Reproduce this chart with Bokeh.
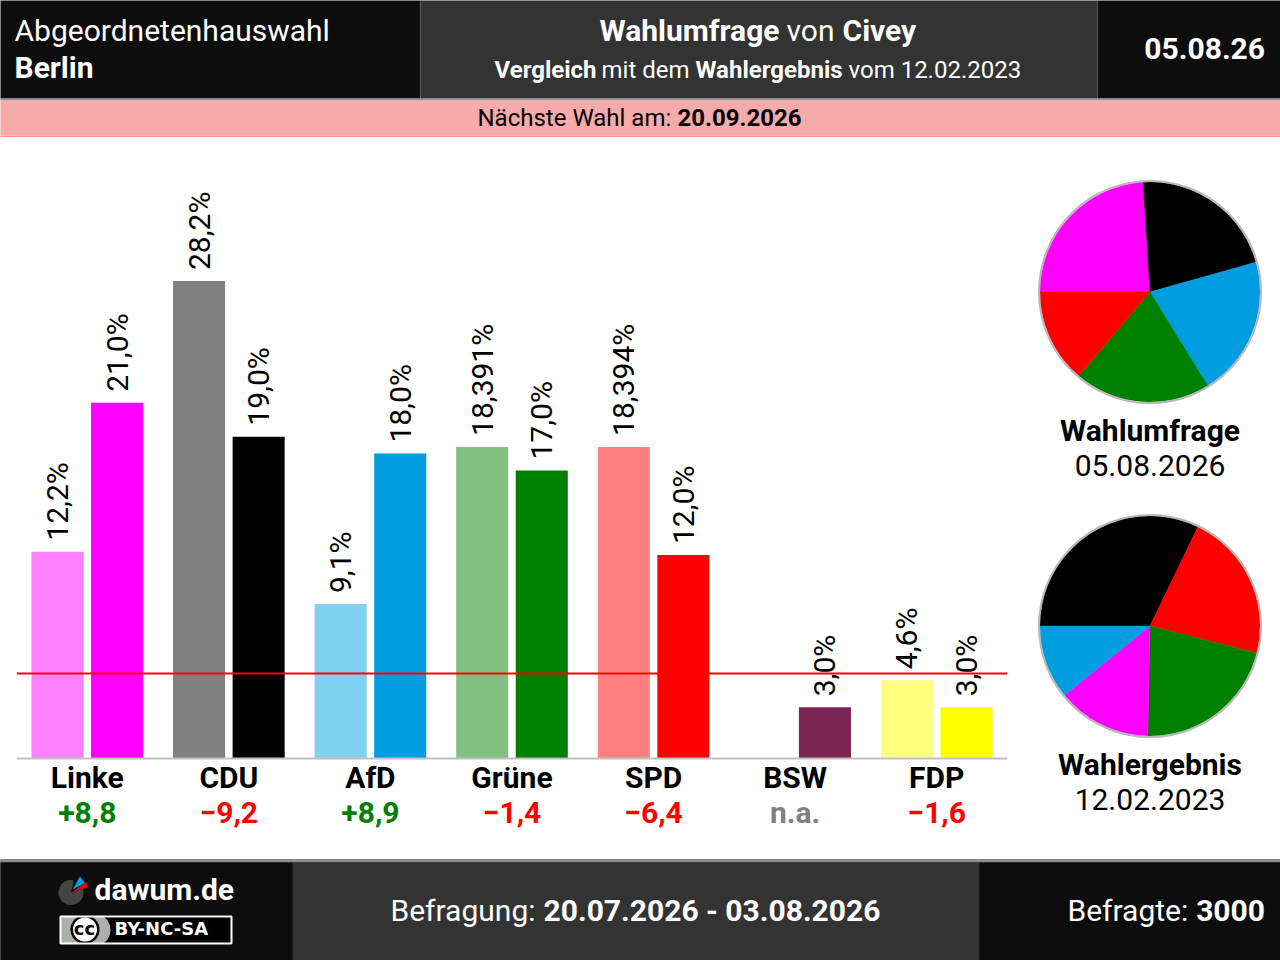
from math import pi
from bokeh.embed import file_html
from bokeh.layouts import column, row
from bokeh.models import ColumnDataSource, FactorRange, Range1d, Span
from bokeh.plotting import figure
from bokeh.resources import INLINE
from bokeh.transform import dodge
from bokeh.core.properties import value

# ---- chart values ----
parties = ["Linke", "CDU", "AfD", "Grüne", "SPD", "BSW", "FDP"]
result_2023 = [12.2, 28.2, 9.1, 18.391, 18.394, float("nan"), 4.6]
survey_2026 = [21.0, 19.0, 18.0, 17.0, 12.0, 3.0, 3.0]
result_labels = ["12,2%", "28,2%", "9,1%", "18,391%", "18,394%", "", "4,6%"]
survey_labels = ["21,0%", "19,0%", "18,0%", "17,0%", "12,0%", "3,0%", "3,0%"]
differences = ["+8,8", "−9,2", "+8,9", "−1,4", "−6,4", "n.a.", "−1,6"]
difference_colors = ["#008000", "#ff0000", "#008000", "#ff0000", "#ff0000", "#808080", "#ff0000"]
result_colors = ["#ff80ff", "#808080", "#80d0f0", "#80c080", "#ff8080", "#ffffff", "#ffff80"]
survey_colors = ["#ff00ff", "#000000", "#009ee0", "#008000", "#ff0000", "#7c2452", "#ffff00"]
threshold = 5

pie_survey_values = [20.9, 18.8, 17.9, 17.4, 12.0]
pie_survey_colors = ["#ff00ff", "#000000", "#009ee0", "#008000", "#ff0000"]
pie_result_values = [27.7, 18.75, 18.41, 11.9, 9.35]
pie_result_colors = ["#000000", "#ff0000", "#008000", "#ff00ff", "#009ee0"]

FONT = value("Roboto")
BLACK = "#0d0d0d"
DARK = "#333333"


def run(p, x, y, text, size, bold=False, color="#000000", align="left", font=FONT):
    p.text(x=[x], y=[y], text=[text], text_font=font, text_font_size=f"{size}px",
           text_font_style="bold" if bold else "normal", text_color=color,
           text_align=align, text_baseline="middle")


def panel(width, height, x0, x1, y0, y1, border="#ffffff"):
    p = figure(width=width, height=height, x_range=Range1d(x0, x1), y_range=Range1d(y1, y0),
               x_axis_type=None, y_axis_type=None, toolbar_location=None,
               output_backend="svg", min_border=0, outline_line_color=None,
               border_fill_color=border, background_fill_color=border)
    p.grid.visible = False
    return p


def box(p, x0, x1, y0, y1, color):
    p.quad(left=[x0], right=[x1], top=[y0], bottom=[y1], fill_color=color, line_color=None)


# ---- header ----
head = panel(1280, 137, 1, 1281, 1, 138)
box(head, -5, 421, -5, 99, BLACK)
box(head, 421, 1098, -5, 99, DARK)
box(head, 1098, 1290, -5, 99, BLACK)
box(head, -5, 1290, 99, 101, "#8c8c8c")
box(head, -5, 1290, 101, 136, "#f6aaaa")
box(head, -5, 1290, 136, 138, "#ff9090")
run(head, 15, 31, "Abgeordnetenhauswahl", 30, color="#ffffff")
run(head, 15, 68, "Berlin", 30, True, "#ffffff")
run(head, 600, 31, "Wahlumfrage", 30, True, "#ffffff")
run(head, 787, 31, "von", 30, color="#ffffff")
run(head, 843, 31, "Civey", 30, True, "#ffffff")
run(head, 495, 70, "Vergleich", 24, True, "#ffffff")
run(head, 602, 70, "mit dem", 24, color="#ffffff")
run(head, 696, 70, "Wahlergebnis", 24, True, "#ffffff")
run(head, 849, 70, "vom 12.02.2023", 24, color="#ffffff")
run(head, 1265.5, 49, "05.08.26", 30, True, "#ffffff", "right")
run(head, 478, 118, "Nächste Wahl am:", 24)
run(head, 678, 118, "20.09.2026", 24, True)

# ---- bars ----
bars = figure(width=1030, height=722, x_range=FactorRange(factors=parties),
              y_range=Range1d(-6.0, 36.69), toolbar_location=None, output_backend="svg",
              min_border=0, min_border_left=16, min_border_right=23, outline_line_color=None)
bars.grid.visible = False
bars.yaxis.visible = False
source = ColumnDataSource(dict(party=parties, result=result_2023, survey=survey_2026,
                               result_label=result_labels, survey_label=survey_labels,
                               diff=differences, diff_color=difference_colors,
                               result_color=result_colors, survey_color=survey_colors))
left = dodge("party", -0.2104, range=bars.x_range)
right = dodge("party", 0.2104, range=bars.x_range)
bars.vbar(x=left, top="result", bottom=0, width=0.3677, fill_color="result_color", line_color=None, source=source)
bars.vbar(x=right, top="survey", bottom=0, width=0.3677, fill_color="survey_color", line_color=None, source=source)
for xx, yy, lab in ((left, "result", "result_label"), (right, "survey", "survey_label")):
    bars.text(x=xx, y=yy, text=lab, angle=pi / 2, y_offset=-11, text_align="left", text_baseline="middle",
              text_font=FONT, text_font_size="30px", text_color="#000000", source=source)
bars.text(x="party", y=0, text="diff", y_offset=54.5, text_align="center", text_baseline="middle",
          text_font=FONT, text_font_size="30px", text_font_style="bold", text_color="diff_color", source=source)
bars.add_layout(Span(location=threshold, dimension="width", line_color="#ff0000", line_width=2))
ax = bars.xaxis[0]
ax.fixed_location = 0
ax.axis_line_color = "#c0c0c0"
ax.axis_line_width = 2
ax.major_tick_line_color = None
ax.minor_tick_line_color = None
ax.major_label_standoff = -4
ax.major_label_text_font = "Roboto"
ax.major_label_text_font_size = "30px"
ax.major_label_text_font_style = "bold"
ax.major_label_text_color = "#000000"

# ---- pies ----
pies = figure(width=250, height=722, x_range=Range1d(1030.5, 1280.5), y_range=Range1d(-859.5, -137.5),
              x_axis_type=None, y_axis_type=None, toolbar_location=None, output_backend="svg",
              min_border=0, outline_line_color=None)
pies.grid.visible = False


def pie(cx, cy, values, colors):
    total = sum(values)
    start, stop, cum = [], [], 0.0
    for v in values:
        start.append(pi - cum / total * 2 * pi)
        cum += v
        stop.append(pi - cum / total * 2 * pi)
    pies.wedge(x=[cx] * len(values), y=[-cy] * len(values), radius=110, radius_units="screen",
               start_angle=start, end_angle=stop, direction="clock", fill_color=colors,
               line_color=colors, line_width=0.5)
    pies.scatter(x=[cx], y=[-cy], size=222, marker="circle", fill_color=None,
                 line_color="#b8b8b8", line_width=2)


pie(1150, 292, pie_survey_values, pie_survey_colors)
pie(1150, 626, pie_result_values, pie_result_colors)
for yy, txt, bold in ((430.5, "Wahlumfrage", True), (465.5, "05.08.2026", False),
                      (764.5, "Wahlergebnis", True), (799.5, "12.02.2023", False)):
    run(pies, 1150, -yy, txt, 30, bold, align="center")

# ---- footer ----
foot = panel(1280, 101, 1, 1281, 860, 961, BLACK)
box(foot, -5, 1290, 860, 863, "#8c8c8c")
box(foot, -5, 293, 863, 970, BLACK)
box(foot, 293, 980, 863, 970, DARK)
box(foot, 980, 1290, 863, 970, BLACK)
foot.wedge(x=[71.5], y=[893], radius=12.5, start_angle=[0.3], end_angle=[1.35],
           direction="clock", fill_color="#444444", line_color=None)
foot.patch([73, 80.5, 85.5], [890, 877, 883.5], fill_color="#009ee0", line_color=None)
foot.patch([73, 87, 88], [892, 882.5, 888], fill_color="#ff0000", line_color=None)
run(foot, 95, 890, "dawum.de", 30, True, "#ffffff")
box(foot, 61, 232, 917, 944, "#000000")
box(foot, 61, 101, 917, 944, "#aab0aa")
foot.ellipse(x=[101], y=[930.5], width=20, height=27, fill_color="#aab0aa", line_color=None)
foot.circle(x=[85.5], y=[930], radius=14.5, fill_color="#000000", line_color=None)
foot.circle(x=[85.5], y=[930], radius=12, fill_color="#ffffff", line_color=None)
run(foot, 85, 929, "cc", 18, True, "#000000", "center", value("DejaVu Sans"))
foot.quad(left=[61], right=[232], top=[917], bottom=[944], fill_color=None, line_color="#ffffff", line_width=2)
run(foot, 115, 929, "BY-NC-SA", 18, True, "#ffffff", font=value("DejaVu Sans"))
run(foot, 391, 911, "Befragung:", 30, color="#ffffff")
run(foot, 544, 911, "20.07.2026 - 03.08.2026", 30, True, "#ffffff")
run(foot, 1068, 911, "Befragte:", 30, color="#ffffff")
run(foot, 1265.5, 911, "3000", 30, True, "#ffffff", "right")

page = column(head, row(bars, pies), foot, spacing=0)
open("out.html", "w").write(file_html(page, INLINE))
